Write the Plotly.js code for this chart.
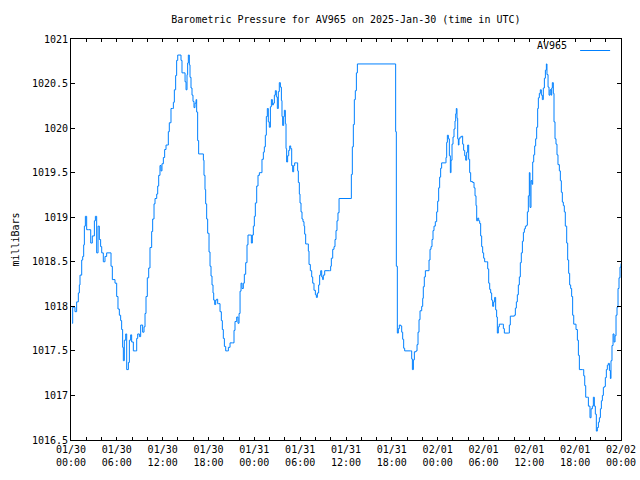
<!DOCTYPE html>
<html>
<head>
<meta charset="utf-8">
<script src="https://cdn.plot.ly/plotly-3.0.1.min.js"></script>
<style>html,body{margin:0;padding:0;background:#fff;}#chart{width:640px;height:480px;}</style>
</head>
<body>
<div id="chart"></div>
<script>
// Hours since 2025-01-30 00:00 UTC
const hoursUTC = [
0.13,0.22,0.52,0.74,0.96,1.09,1.18,1.40,1.53,1.66,
1.75,1.88,2.05,2.27,2.49,2.58,2.79,3.06,3.19,3.36,
3.54,3.71,3.88,4.02,4.23,4.45,4.67,5.11,5.24,5.41,
5.76,5.98,6.15,6.33,6.50,6.63,6.76,6.85,6.98,7.16,
7.29,7.51,7.64,7.81,7.94,8.16,8.42,8.60,8.73,8.95,
9.12,9.38,9.56,9.69,9.82,9.99,10.17,10.34,10.56,10.69,
10.87,11.00,11.22,11.35,11.48,11.65,11.78,11.91,12.09,12.26,
12.44,12.61,12.74,12.87,13.09,13.27,13.40,13.53,13.70,13.83,
13.97,14.27,14.40,14.53,14.79,14.93,15.06,15.19,15.27,15.36,
15.49,15.58,15.71,15.84,15.97,16.10,16.23,16.37,16.45,16.58,
16.71,17.15,17.33,17.41,17.54,17.63,17.76,17.89,18.07,18.20,
18.33,18.46,18.59,18.68,18.81,18.94,19.07,19.20,19.33,19.51,
19.68,19.81,19.94,20.08,20.25,20.47,20.60,20.82,21.17,21.34,
21.47,21.69,21.86,22.00,22.13,22.26,22.39,22.56,22.69,22.87,
23.04,23.17,23.44,23.61,23.74,23.87,24.00,24.13,24.31,24.48,
24.66,24.87,25.00,25.18,25.31,25.44,25.57,25.70,25.83,25.96,
26.10,26.23,26.36,26.49,26.62,26.75,26.88,27.01,27.14,27.27,
27.41,27.54,27.62,27.71,27.84,27.93,28.06,28.15,28.23,28.36,
28.50,28.63,28.76,28.89,29.02,29.15,29.28,29.54,29.67,29.76,
29.89,29.98,30.11,30.24,30.37,30.50,30.59,30.72,30.94,31.07,
31.16,31.33,31.51,31.64,31.81,31.99,32.12,32.25,32.42,32.55,
32.69,32.82,32.95,33.03,33.21,33.82,33.99,34.08,34.26,34.43,
34.56,34.69,34.82,34.95,35.09,36.53,36.70,36.83,36.96,37.09,
37.22,37.36,37.49,42.42,42.50,42.59,42.72,42.85,42.98,43.16,
43.29,43.42,43.55,43.68,44.47,44.60,44.69,44.82,44.95,45.17,
45.30,45.43,45.56,45.69,45.91,46.04,46.12,46.25,46.39,46.73,
46.87,47.00,47.13,47.26,47.39,47.52,47.69,47.87,48.00,48.13,
48.26,48.39,48.52,49.00,49.09,49.18,49.27,49.40,49.53,49.66,
49.75,49.88,50.01,50.14,50.27,50.36,50.44,50.53,50.62,50.71,
50.79,50.92,51.14,51.27,51.40,51.54,51.67,51.80,51.93,52.06,
52.19,52.32,52.58,52.76,52.89,53.02,53.11,53.24,53.37,53.50,
53.63,53.76,53.89,54.02,54.15,54.42,54.55,54.68,54.81,54.94,
55.07,55.20,55.33,55.46,55.59,55.72,55.81,55.94,56.07,56.47,
56.60,56.73,57.25,57.38,57.51,58.04,58.17,58.30,58.43,58.56,
58.69,58.82,58.95,59.09,59.22,59.35,59.48,59.65,59.74,59.87,
60.00,60.09,60.22,60.35,60.44,60.57,60.70,60.83,60.96,61.09,
61.18,61.31,61.44,61.57,61.70,61.83,61.97,62.10,62.23,62.31,
62.45,62.58,62.71,62.84,62.93,63.01,63.14,63.23,63.36,63.49,
63.62,63.75,63.93,64.06,64.19,64.32,64.45,64.58,64.71,64.89,
65.02,65.15,65.28,65.41,65.54,65.67,65.81,65.98,66.11,66.29,
66.42,66.55,66.98,67.12,67.25,67.38,67.64,67.73,67.94,68.08,
68.25,68.38,68.51,68.64,68.77,68.90,69.04,69.17,69.30,69.43,
69.56,69.69,69.82,69.95,70.08,70.21,70.34,70.48,70.61,70.69,
70.82,70.96,71.09,71.22,71.35,71.48,71.61,71.74,71.87,72.00
];

// Barometric pressure, milliBars
const pressureMb = [
1017.81,1017.99,1017.94,1018.05,1018.15,1018.24,1018.35,1018.52,1018.56,1018.69,
1018.90,1019.01,1018.86,1018.86,1018.86,1018.71,1018.79,1018.96,1019.01,1018.60,
1018.90,1018.75,1018.67,1018.60,1018.50,1018.56,1018.60,1018.60,1018.45,1018.30,
1018.26,1018.11,1017.97,1017.90,1017.84,1017.74,1017.54,1017.39,1017.62,1017.69,
1017.29,1017.37,1017.62,1017.68,1017.60,1017.50,1017.50,1017.64,1017.69,1017.66,
1017.79,1017.71,1017.77,1017.92,1018.11,1018.32,1018.43,1018.66,1018.84,1018.98,
1019.15,1019.21,1019.26,1019.35,1019.47,1019.58,1019.52,1019.60,1019.67,1019.76,
1019.81,1019.81,1019.96,1020.06,1020.22,1020.22,1020.29,1020.43,1020.59,1020.76,
1020.82,1020.82,1020.76,1020.62,1020.62,1020.52,1020.43,1020.60,1020.73,1020.82,
1020.71,1020.57,1020.45,1020.37,1020.30,1020.23,1020.28,1020.32,1020.18,1019.86,
1019.71,1019.71,1019.64,1019.47,1019.31,1019.15,1018.98,1018.82,1018.61,1018.45,
1018.34,1018.24,1018.15,1018.07,1018.02,1018.07,1018.08,1018.03,1018.03,1017.94,
1017.84,1017.74,1017.64,1017.55,1017.50,1017.50,1017.54,1017.59,1017.59,1017.73,
1017.83,1017.88,1017.81,1017.92,1018.17,1018.26,1018.20,1018.26,1018.36,1018.49,
1018.69,1018.80,1018.80,1018.71,1018.80,1018.90,1019.01,1019.16,1019.35,1019.47,
1019.50,1019.50,1019.65,1019.73,1019.79,1019.92,1020.13,1020.22,1020.07,1020.01,
1020.24,1020.32,1020.26,1020.28,1020.37,1020.42,1020.35,1020.22,1020.41,1020.51,
1020.46,1020.31,1020.13,1020.03,1020.13,1020.20,1020.05,1019.77,1019.62,1019.69,
1019.75,1019.80,1019.77,1019.58,1019.51,1019.58,1019.61,1019.61,1019.52,1019.39,
1019.26,1019.16,1019.06,1018.98,1018.95,1018.90,1018.81,1018.70,1018.70,1018.62,
1018.47,1018.40,1018.33,1018.26,1018.18,1018.13,1018.10,1018.15,1018.24,1018.35,
1018.40,1018.33,1018.30,1018.35,1018.40,1018.40,1018.45,1018.54,1018.64,1018.67,
1018.75,1018.85,1018.96,1019.05,1019.21,1019.21,1019.48,1019.79,1020.04,1020.32,
1020.42,1020.62,1020.72,1020.72,1019.96,1018.45,1017.70,1017.75,1017.79,1017.78,
1017.71,1017.63,1017.53,1017.50,1017.50,1017.41,1017.29,1017.40,1017.49,1017.50,
1017.57,1017.71,1017.85,1017.95,1018.00,1018.09,1018.22,1018.33,1018.40,1018.40,
1018.52,1018.64,1018.67,1018.75,1018.85,1018.90,1018.95,1019.06,1019.18,1019.33,
1019.45,1019.55,1019.61,1019.61,1019.67,1019.84,1019.92,1019.88,1019.69,1019.50,
1019.64,1019.82,1019.90,1019.99,1020.08,1020.16,1020.22,1020.11,1019.88,1019.81,
1019.88,1019.90,1019.91,1019.82,1019.75,1019.69,1019.64,1019.73,1019.81,1019.65,
1019.50,1019.40,1019.39,1019.33,1019.24,1019.13,1018.96,1018.99,1018.96,1018.93,
1018.79,1018.67,1018.60,1018.54,1018.50,1018.50,1018.42,1018.26,1018.19,1018.15,
1018.07,1018.00,1018.05,1018.10,1017.96,1017.88,1017.70,1017.77,1017.80,1017.80,
1017.75,1017.70,1017.70,1017.79,1017.89,1017.90,1017.98,1018.05,1018.13,1018.24,
1018.33,1018.49,1018.60,1018.73,1018.83,1018.87,1018.90,1018.91,1019.06,1019.24,
1019.50,1019.11,1019.41,1019.37,1019.62,1019.70,1019.80,1019.88,1020.01,1020.22,
1020.34,1020.39,1020.43,1020.37,1020.32,1020.45,1020.56,1020.65,1020.72,1020.60,
1020.46,1020.37,1020.43,1020.37,1020.45,1020.51,1020.39,1020.07,1019.88,1019.82,
1019.70,1019.59,1019.52,1019.41,1019.28,1019.17,1019.13,1019.06,1018.90,1018.71,
1018.52,1018.37,1018.24,1018.20,1018.11,1017.90,1017.80,1017.80,1017.74,1017.62,
1017.45,1017.29,1017.29,1017.22,1017.11,1016.98,1016.98,1016.88,1016.75,1016.85,
1016.88,1016.98,1016.88,1016.79,1016.60,1016.64,1016.70,1016.75,1016.85,1016.94,
1017.00,1017.09,1017.10,1017.20,1017.29,1017.34,1017.36,1017.28,1017.19,1017.39,
1017.56,1017.69,1017.60,1017.67,1017.90,1017.99,1018.20,1018.32,1018.44,1018.48
];

const tickHours = [0,6,12,18,24,30,36,42,48,54,60,66,72];
const tickLabels = [
"01/30<br>00:00","01/30<br>06:00","01/30<br>12:00","01/30<br>18:00",
"01/31<br>00:00","01/31<br>06:00","01/31<br>12:00","01/31<br>18:00",
"02/01<br>00:00","02/01<br>06:00","02/01<br>12:00","02/01<br>18:00",
"02/02<br>00:00"
];
const seriesName = "AV965";

const FONT = {family: "DejaVu Sans Mono, monospace", size: 10, color: "#000"};

const trace = {
  x: hoursUTC,
  y: pressureMb,
  type: "scatter",
  mode: "lines",
  name: " ",
  line: {color: "#0080ff", width: 1, shape: "hv"},
  showlegend: true
};

const layout = {
  width: 640, height: 480,
  margin: {l: 71, r: 19, t: 39, b: 40},
  paper_bgcolor: "#fff", plot_bgcolor: "#fff",
  font: FONT,
  separators: ".",
  title: {
    text: "Barometric Pressure for " + seriesName + " on 2025-Jan-30 (time in UTC)",
    font: FONT, x: 0.5405, xanchor: "center", xref: "container",
    y: 1 - 19/480, yref: "container", yanchor: "middle"
  },
  xaxis: {
    range: [0, 72],
    tickmode: "array", tickvals: tickHours, ticktext: tickLabels,
    ticks: "inside", ticklen: 3, tickwidth: 1, tickcolor: "#000",
    showline: true, linecolor: "#000", linewidth: 1, mirror: "ticks",
    showgrid: false, zeroline: false,
    tickfont: FONT,
    minor: {tickmode: "linear", tick0: 0, dtick: 2, ticks: "inside", ticklen: 3, tickcolor: "#000", showgrid: false}
  },
  yaxis: {
    range: [1016.5, 1021],
    tickmode: "linear", tick0: 1016.5, dtick: 0.5,
    tickformat: ".1~f", separatethousands: false,
    ticks: "inside", ticklen: 4, tickwidth: 1, tickcolor: "#000",
    showline: true, linecolor: "#000", linewidth: 1, mirror: "ticks",
    showgrid: false, zeroline: false,
    tickfont: FONT,
    title: {text: "milliBars", font: FONT, standoff: 10}
  },
  legend: {
    x: 1 + 6/550, xanchor: "right", y: 1 + 3/401, yanchor: "top",
    bgcolor: "rgba(0,0,0,0)",
    title: {text: seriesName, side: "left", font: FONT},
    font: FONT,
    itemwidth: 30
  },
  showlegend: true
};

Plotly.newPlot("chart", [trace], layout, {displayModeBar: false, staticPlot: true});
</script>
</body>
</html>
